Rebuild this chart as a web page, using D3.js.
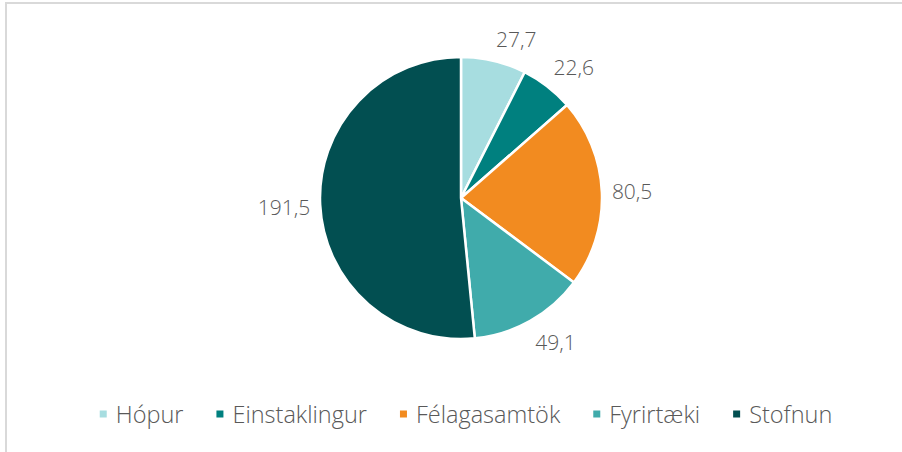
<!DOCTYPE html>
<html>
<head>
<meta charset="utf-8">
<script src="https://cdn.jsdelivr.net/npm/d3@7"></script>
<style>
  body { margin: 0; background: #fff; }
  svg { display: block; }
</style>
</head>
<body>
<div id="pieChart"></div>
<script>
// values
let categories = ['Hópur', 'Einstaklingur', 'Félagasamtök', 'Fyrirtæki', 'Stofnun']
let values = [27.7, 22.6, 80.5, 49.1, 191.5]
let labels = ['27,7', '22,6', '80,5', '49,1', '191,5']
let colors = ['#a7dde0', '#00807f', '#f28b20', '#40abab', '#024f51']

let width = 902, height = 452
let cx = 461, cy = 198, radius = 141
let font = '"Open Sans", sans-serif'

let svg = d3.select('#pieChart')
  .append('svg')
  .attr('width', width)
  .attr('height', height)

// chart frame (cut off at right and bottom)
svg.append('rect')
  .attr('x', 6).attr('y', 3)
  .attr('width', 1000).attr('height', 1000)
  .attr('fill', 'none')
  .attr('stroke', '#d9d9d9')
  .attr('stroke-width', 2)

let data = categories.map(function(c, i) {
  return {name: c, value: values[i], label: labels[i], color: colors[i]}
})

let pie = d3.pie().sort(null).value(function(d) { return d.value })
let arc = d3.arc().innerRadius(0).outerRadius(radius)
let arcs = pie(data)

let g = svg.append('g').attr('transform', 'translate(' + cx + ',' + cy + ')')

g.selectAll('path')
  .data(arcs)
  .enter().append('path')
  .attr('d', arc)
  .attr('fill', function(d) { return d.data.color })
  .attr('stroke', '#fff')
  .attr('stroke-width', 2.5)
  .attr('stroke-linejoin', 'round')

// data labels, outside end: box pushed off the point at radius+gap
let lbl = g.selectAll('text.lbl')
  .data(arcs)
  .enter().append('text')
  .attr('class', 'lbl')
  .style('font-family', font)
  .style('font-weight', 300)
  .style('font-size', '21px')
  .attr('fill', '#595959')
  .attr('text-anchor', 'middle')
  .attr('dominant-baseline', 'central')
  .text(function(d) { return d.data.label })

let clamp = function(v) { return Math.max(-1, Math.min(1, v)) }
lbl.each(function(d) {
  let a = (d.startAngle + d.endAngle) / 2
  let s = Math.sin(a), c = Math.cos(a)
  let hw = this.getComputedTextLength() / 2
  let hh = 12
  let r = radius + 10
  let x = r * s + hw * Math.sign(s)
  let y = -r * c - hh * clamp(c * 2)
  d3.select(this).attr('x', x).attr('y', y)
})

// legend
let legend = svg.append('g')
let lx = 0
let items = legend.selectAll('g')
  .data(data)
  .enter().append('g')

items.append('rect')
  .attr('width', 7).attr('height', 7)
  .attr('y', -3.5)
  .attr('fill', function(d) { return d.color })

items.append('text')
  .attr('x', 16)
  .attr('dominant-baseline', 'central')
  .style('font-family', font)
  .style('font-weight', 300)
  .style('font-size', '23.5px')
  .attr('fill', '#595959')
  .text(function(d) { return d.name })

items.each(function() {
  let w = d3.select(this).select('text').node().getComputedTextLength()
  d3.select(this).attr('transform', 'translate(' + lx + ',0)')
  lx += 16 + w + 33
})
lx -= 33
legend.attr('transform', 'translate(' + (466 - lx / 2) + ',414)')
</script>
</body>
</html>
